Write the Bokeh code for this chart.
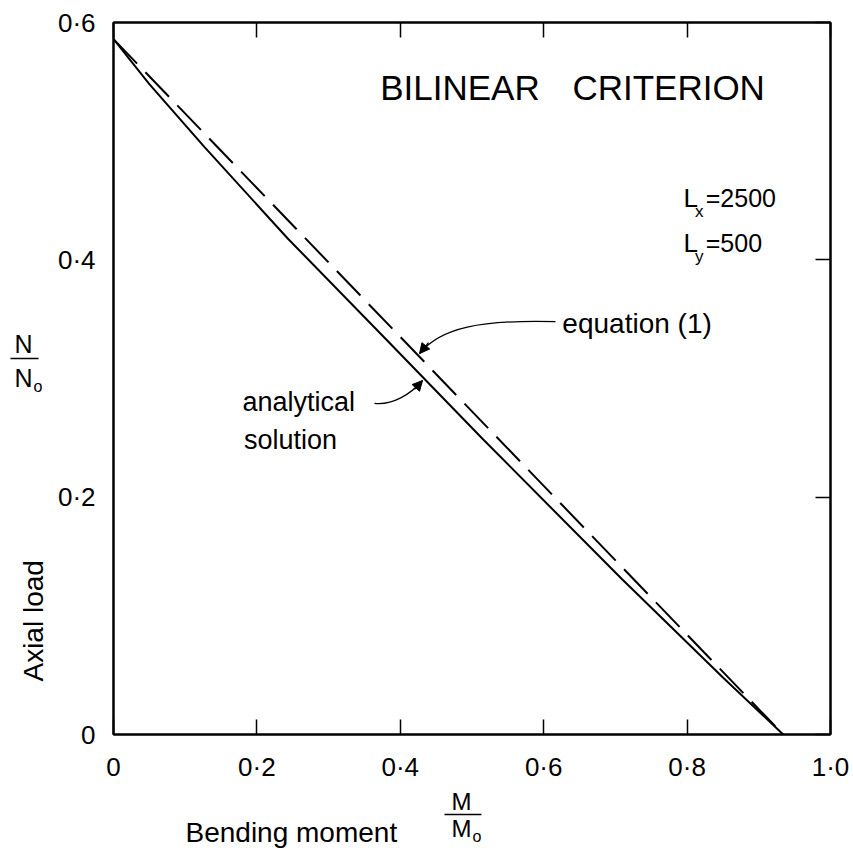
from bokeh.plotting import figure
from bokeh.layouts import column, row
from bokeh.models import (LinearAxis, FixedTicker, CustomJSTickFormatter, Label,
                          Arrow, NormalHead, Range1d)
from bokeh.embed import file_html
from bokeh.resources import INLINE

# Interaction curve: axial load N/No against bending moment M/Mo
moment_equation = [0.0, 0.934]
axial_equation = [0.586, 0.0]

moment_analytical = [0.0, 0.05, 0.127, 0.243, 0.377, 0.515, 0.709, 0.85, 0.934]
axial_analytical = [0.586, 0.548, 0.495, 0.418, 0.335, 0.249, 0.131, 0.048, 0.0]

x_ticks = [0.0, 0.2, 0.4, 0.6, 0.8, 1.0]
y_ticks = [0.0, 0.2, 0.4, 0.6]

FONT = "Liberation Sans"
INK = "black"

W, H = 853, 867
LEFT_W = 50          # strip holding the vertical axis title
TOP_H = 784          # height of the plot row; the rest holds the horizontal axis title
FRAME_TOP, FRAME_BOTTOM = 22, 736

p = figure(width=W - LEFT_W, height=TOP_H, x_range=(0, 1.0), y_range=(0, 0.6),
           output_backend="svg", toolbar_location=None,
           x_axis_type=None, y_axis_type=None)
p.min_border_left = 63
p.min_border_right = 23
p.min_border_top = FRAME_TOP
p.min_border_bottom = TOP_H - FRAME_BOTTOM
p.xgrid.visible = False
p.ygrid.visible = False
p.outline_line_color = INK
p.outline_line_width = 2

dot_fmt = CustomJSTickFormatter(
    code='return tick == 0 ? "0" : tick.toFixed(1).replace(".", "\\u00b7");')
blank_fmt = CustomJSTickFormatter(code='return "";')


def style_axis(ax, tick_in, labelled):
    ax.axis_line_color = INK
    ax.axis_line_width = 2
    ax.major_tick_line_color = INK if tick_in > 0 else None
    ax.major_tick_line_width = 1.5
    ax.major_tick_in = tick_in
    ax.major_tick_out = 0
    ax.minor_tick_line_color = None
    ax.major_label_text_font = FONT
    ax.major_label_text_font_size = "26px" if labelled else "0px"
    ax.major_label_text_color = INK


bottom_axis = LinearAxis(ticker=FixedTicker(ticks=x_ticks), formatter=dot_fmt)
style_axis(bottom_axis, 15, True)
bottom_axis.major_label_standoff = 17
p.add_layout(bottom_axis, "below")

left_axis = LinearAxis(ticker=FixedTicker(ticks=y_ticks), formatter=dot_fmt)
style_axis(left_axis, 0, True)
left_axis.major_label_standoff = 18
p.add_layout(left_axis, "left")

top_axis = LinearAxis(ticker=FixedTicker(ticks=x_ticks), formatter=blank_fmt)
style_axis(top_axis, 15, False)
p.add_layout(top_axis, "above")

right_axis = LinearAxis(ticker=FixedTicker(ticks=y_ticks), formatter=blank_fmt)
style_axis(right_axis, 15, False)
p.add_layout(right_axis, "right")

# curves
p.line(moment_equation, axial_equation, line_color=INK, line_width=2,
       line_dash="34 12")
p.line(moment_analytical, axial_analytical, line_color=INK, line_width=2)


def text(fig, x, y, s, size="27px", align="left", angle=0.0):
    fig.add_layout(Label(x=x, y=y, text=s, text_font=FONT, text_font_size=size,
                         text_color=INK, text_align=align, text_baseline="middle",
                         angle=angle))


# heading
text(p, 0.372, 0.545, "BILINEAR", size="35px")
text(p, 0.640, 0.545, "CRITERION", size="35px")

# span lengths
text(p, 0.795, 0.452, "L", size="26px")
text(p, 0.811, 0.441, "x", size="17px")
text(p, 0.826, 0.452, "=2500", size="25px")
text(p, 0.795, 0.414, "L", size="26px")
text(p, 0.811, 0.403, "y", size="17px")
text(p, 0.826, 0.414, "=500", size="25px")

# curve annotations
text(p, 0.626, 0.3462, "equation (1)", size="28px")
text(p, 0.180, 0.2803, "analytical", size="27px")
text(p, 0.182, 0.2483, "solution", size="27px")

p.bezier(x0=[0.6165], y0=[0.3479], x1=[0.4268], y1=[0.3210],
         cx0=[0.5119], cy0=[0.3496], cx1=[0.4561], cy1=[0.3429],
         line_color=INK, line_width=1.3)
p.add_layout(Arrow(x_start=0.4393, y_start=0.3303, x_end=0.4268, y_end=0.3210,
                   line_color=INK, line_width=1.3,
                   end=NormalHead(size=10, fill_color=INK, line_color=INK)))

p.bezier(x0=[0.3640], y0=[0.2790], x1=[0.4310], y1=[0.2983],
         cx0=[0.3891], cy0=[0.2773], cx1=[0.4142], cy1=[0.2866],
         line_color=INK, line_width=1.3)
p.add_layout(Arrow(x_start=0.4198, y_start=0.2908, x_end=0.4310, y_end=0.2983,
                   line_color=INK, line_width=1.3,
                   end=NormalHead(size=10, fill_color=INK, line_color=INK)))


def strip(width, height, top=0, bottom=0):
    # a bare panel whose coordinates run in page pixels from its top-left corner
    s = figure(width=width, height=height, x_range=Range1d(0, width),
               y_range=Range1d(height - bottom, top), output_backend="svg",
               toolbar_location=None, x_axis_location=None, y_axis_location=None,
               min_border=0)
    s.min_border_top = top
    s.min_border_bottom = bottom
    s.grid.visible = False
    s.outline_line_color = None
    return s


# vertical axis title: "Axial load" and the ratio N/No
ls = strip(LEFT_W, TOP_H, top=FRAME_TOP, bottom=TOP_H - FRAME_BOTTOM)
text(ls, 33, 622, "Axial load", size="28px", align="center", angle=1.5708)
text(ls, 23, 344, "N", size="25px", align="center")
ls.segment(x0=[10], y0=[359], x1=[38], y1=[359], line_color=INK, line_width=1.5)
text(ls, 23, 378, "N", size="25px", align="center")
text(ls, 33, 387, "o", size="16px")

# horizontal axis title: "Bending moment" and the ratio M/Mo
bs = strip(W, H - TOP_H)
text(bs, 185, 48, "Bending moment", size="28px")
text(bs, 461, 17, "M", size="24px", align="center")
bs.segment(x0=[444], y0=[30], x1=[481], y1=[30], line_color=INK, line_width=1.5)
text(bs, 461, 44, "M", size="24px", align="center")
text(bs, 472, 52, "o", size="16px")

layout = column(row(ls, p), bs)
open("out.html", "w").write(file_html(layout, INLINE))
